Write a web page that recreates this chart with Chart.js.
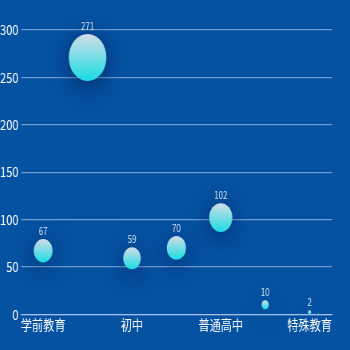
<!DOCTYPE html>
<html>
<head>
<meta charset="utf-8">
<script src="https://cdn.jsdelivr.net/npm/chart.js@4.4.1/dist/chart.umd.min.js"></script>
<style>
html, body { margin: 0; padding: 0; width: 350px; height: 350px; overflow: hidden; background: #0551a2; }
/* source picture is squeezed horizontally, so draw wide and squash */
#wrap { position: absolute; left: -5px; top: 0; width: 445px; height: 350px; transform: scaleX(0.8); transform-origin: 0 0; }
</style>
</head>
<body>
<div id="wrap"><canvas id="myChart"></canvas></div>
<script>
const categories = ['学前教育', '小学', '初中', '九年一贯制', '普通高中', '完全中学', '特殊教育'];
const counts = [67, 271, 59, 70, 102, 10, 2];
const yMax = 300;
const yStep = 50;

const FONT = '"Noto Sans CJK SC", "Noto Sans", sans-serif';

function bubbleRadius(v) {
    return 1.43 * Math.sqrt(v);
}

const data = {
    labels: categories,
    datasets: [{
        label: '学校数',
        data: counts.map((v, i) => ({ x: categories[i], y: v, r: bubbleRadius(v) })),
        backgroundColor: function (ctx) {
            const chart = ctx.chart;
            const y = chart.scales.y;
            if (ctx.type !== 'data' || !y) return '#7fd8e6';
            const cy = y.getPixelForValue(ctx.raw.y);
            const r = ctx.raw.r;
            if (!isFinite(cy)) return '#7fd8e6';
            const g = chart.ctx.createLinearGradient(0, cy - r, 0, cy + r);
            g.addColorStop(0, '#d3dde7');
            g.addColorStop(1, '#18dde4');
            return g;
        },
        borderWidth: 0,
        clip: false
    }]
};

// dark halo round the bubbles
const shadowPlugin = {
    id: 'bubbleShadow',
    beforeDatasetsDraw(chart) {
        const c = chart.ctx;
        c.save();
        c.shadowColor = 'rgba(0, 25, 80, 0.7)';
        c.shadowBlur = 26;
        c.shadowOffsetY = 4;
    },
    afterDatasetsDraw(chart) {
        chart.ctx.restore();
    }
};

// value above each bubble
const valueLabels = {
    id: 'valueLabels',
    afterDatasetsDraw(chart) {
        const c = chart.ctx;
        const meta = chart.getDatasetMeta(0);
        c.save();
        c.font = '10px ' + FONT;
        c.fillStyle = '#d4e2f0';
        c.textAlign = 'center';
        c.textBaseline = 'alphabetic';
        meta.data.forEach((el, i) => {
            c.fillText(String(counts[i]), el.x, el.y - el.options.radius - 4);
        });
        c.restore();
    }
};

const config = {
    type: 'bubble',
    data: data,
    options: {
        responsive: true,
        maintainAspectRatio: false,
        animation: false,
        layout: { padding: { top: 30, right: 24, bottom: 15, left: 0 } },
        plugins: {
            legend: { display: false },
            tooltip: { enabled: false }
        },
        scales: {
            x: {
                type: 'category',
                labels: categories,
                offset: true,
                grid: { display: false, drawTicks: false },
                border: { display: true, color: 'rgba(190, 210, 240, 0.65)', width: 1.2 },
                ticks: {
                    color: '#ffffff',
                    font: { size: 14, family: FONT },
                    padding: 2,
                    maxRotation: 0,
                    autoSkip: false,
                    callback: function (val, index) {
                        return index % 2 === 0 ? this.getLabelForValue(val) : '';
                    }
                }
            },
            y: {
                min: 0,
                max: yMax,
                afterFit(scale) { scale.width = 32.5; },
                grid: { color: 'rgba(190, 210, 240, 0.6)', lineWidth: 1.2, drawTicks: false },
                border: { display: false },
                ticks: {
                    stepSize: yStep,
                    color: '#ffffff',
                    font: { size: 14, family: FONT },
                    padding: 3
                }
            }
        }
    },
    plugins: [shadowPlugin, valueLabels]
};

const myChart = new Chart(
    document.getElementById('myChart'),
    config
);
</script>
</body>
</html>
